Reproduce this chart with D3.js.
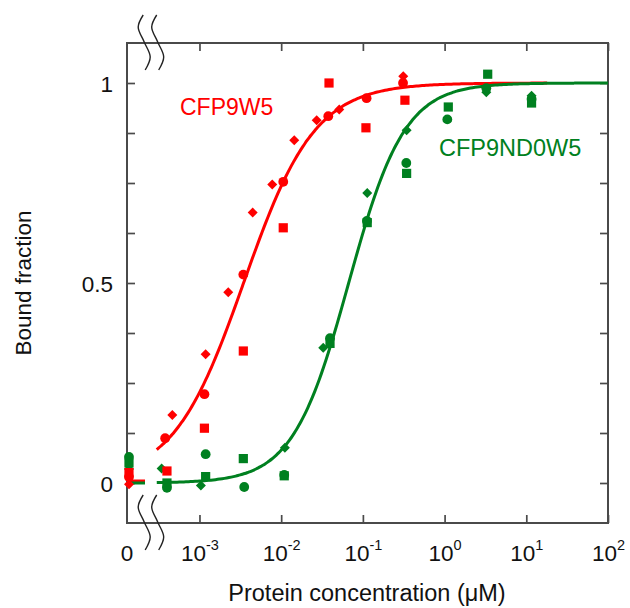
<!DOCTYPE html>
<html>
<head>
<meta charset="utf-8">
<script src="https://cdn.jsdelivr.net/npm/d3@7"></script>
<style>
  html, body { margin: 0; padding: 0; background: #fff; }
  svg { display: block; }
  text { font-family: "Liberation Sans", Arial, sans-serif; }
</style>
</head>
<body>
<svg id="chart" width="630" height="608"></svg>
<script>
// ---- Binding titration data: protein concentration (µM) vs bound fraction ----
// CFP9W5, three replicates (square / circle / diamond markers)
const redSquareConc   = [0, 0.0004, 0.00115, 0.00344, 0.0106, 0.0385, 0.109, 0.327];
const redSquareBound  = [0.026, 0.03, 0.137, 0.33, 0.638, 1.0, 0.888, 0.957];
const redCircleConc   = [0, 0.00038, 0.00115, 0.00344, 0.0106, 0.0377, 0.111, 0.31];
const redCircleBound  = [0.015, 0.112, 0.222, 0.521, 0.753, 0.917, 0.962, 1.0];
const redDiamondConc  = [0, 0.000465, 0.00119, 0.00225, 0.00448, 0.00778, 0.01445, 0.0272, 0.0514, 0.312];
const redDiamondBound = [-0.003, 0.17, 0.322, 0.477, 0.676, 0.746, 0.857, 0.907, 0.934, 1.017];

// CFP9ND0W5, three replicates
const greenSquareConc   = [0, 0.0004, 0.00119, 0.00344, 0.0109, 0.0396, 0.113, 0.343, 1.11, 3.37, 11.6];
const greenSquareBound  = [0.05, 0.0, 0.016, 0.061, 0.018, 0.349, 0.651, 0.774, 0.94, 1.022, 0.95];
const greenCircleConc   = [0, 0.0004, 0.00119, 0.00353, 0.0109, 0.0396, 0.112, 0.34, 1.08, 3.24, 11.6];
const greenCircleBound  = [0.065, -0.012, 0.072, -0.01, 0.02, 0.362, 0.655, 0.80, 0.909, 0.987, 0.96];
const greenDiamondConc  = [0, 0.000344, 0.00104, 0.0111, 0.0327, 0.113, 0.343, 3.24, 11.6];
const greenDiamondBound = [0.035, 0.036, -0.006, 0.088, 0.338, 0.725, 0.882, 0.977, 0.968];

// Hill-fit parameters (apparent Kd in µM, Hill coefficient, baseline) and fitted range
const redFit   = { kd: 0.0035, n: 1.0,  base: 0.005, from: 0.0003, to: 18 };
const greenFit = { kd: 0.067,  n: 1.27, base: 0.0,   from: 0.0003, to: 100 };

// Axis ticks and labels
const xDecades = [1e-3, 1e-2, 1e-1, 1e0, 1e1, 1e2];
const xExponents = ["-3", "-2", "-1", "0", "1", "2"];
const yTicks = [0, 0.125, 0.25, 0.375, 0.5, 0.625, 0.75, 0.875, 1];
const yLabels = { 0: "0", 0.5: "0.5", 1: "1" };
const seriesNames = ["CFP9W5", "CFP9ND0W5"];

// ---- Layout ----
const RED = "#ff0000", GREEN = "#008020", AXIS = "#4a4a4a";
const L = 127, R = 608, T = 43, B = 523;
const breakEnd = 145;           // end of the "0" segment, left of the axis break

const svg = d3.select("#chart");

const x = d3.scaleLog().domain([Math.pow(10, -3.887), 100]).range([L, R]);
const xZero = d3.scaleLinear().domain([0, 1]).range([L, breakEnd]);   // the "0" region
const y = d3.scaleLinear().domain([-0.1, 1.1]).range([B, T]);
const xPos = c => c === 0 ? xZero(0.11) : x(c);

// ---- Frame with inward ticks ----
svg.append("rect")
  .attr("x", L).attr("y", T).attr("width", R - L).attr("height", B - T)
  .attr("fill", "none").attr("stroke", AXIS).attr("stroke-width", 2);

function styleAxis(g) {
  g.select(".domain").remove();
  g.selectAll(".tick line").attr("stroke", AXIS).attr("stroke-width", 1.7);
  g.attr("font-family", null).attr("font-size", null);
}

const gBottom = svg.append("g").attr("transform", `translate(0,${B})`)
  .call(d3.axisBottom(x).tickValues(xDecades).tickSizeInner(-8).tickSizeOuter(0).tickFormat(""))
  .call(styleAxis);
svg.append("g").attr("transform", `translate(0,${T})`)
  .call(d3.axisTop(x).tickValues(xDecades).tickSizeInner(-8).tickSizeOuter(0).tickFormat(""))
  .call(styleAxis);
const gLeft = svg.append("g").attr("transform", `translate(${L},0)`)
  .call(d3.axisLeft(y).tickValues(yTicks).tickSizeInner(-8).tickSizeOuter(0).tickPadding(14)
    .tickFormat(d => yLabels[d] || ""))
  .call(styleAxis);
svg.append("g").attr("transform", `translate(${R},0)`)
  .call(d3.axisRight(y).tickValues(yTicks).tickSizeInner(-8).tickSizeOuter(0).tickFormat(""))
  .call(styleAxis);

gLeft.selectAll(".tick text")
  .attr("fill", "#111").attr("font-size", 22.5).attr("dy", "0.36em");

// bottom decade labels with superscript exponents
gBottom.selectAll(".tick text").each(function(d, i) {
  const t = d3.select(this).text(null)
    .attr("y", 38).attr("dy", null).attr("fill", "#111").attr("font-size", 22.5)
    .attr("text-anchor", "middle");
  t.append("tspan").text("10");
  t.append("tspan").attr("dy", -11).attr("font-size", 14.5).text(xExponents[i]);
});

// "0" label of the zero region
svg.append("text")
  .attr("x", xZero(0)).attr("y", B + 38).attr("text-anchor", "middle")
  .attr("font-size", 22.5).attr("fill", "#111").text("0");

// ---- Axis-break marks (top and bottom) ----
const wave = d3.line().curve(d3.curveCatmullRom.alpha(0.5));
function breakMark(cx, y0) {
  return wave([[cx, y0], [cx - 5, y0 + 12], [cx + 1, y0 + 27], [cx + 7, y0 + 42], [cx + 2, y0 + 55]]);
}
const breakX = [xZero(0.9), xZero(0.9) + 13.5];
[T - 28, B - 28].forEach(y0 => {
  breakX.forEach(cx => {
    svg.append("path").attr("d", breakMark(cx, y0))
      .attr("fill", "none").attr("stroke", "#222").attr("stroke-width", 1.4);
  });
});

// ---- Fitted binding curves ----
function hill(fit, c) {
  const p = Math.pow(c, fit.n);
  return fit.base + (1 - fit.base) * p / (p + Math.pow(fit.kd, fit.n));
}
const curveLine = d3.line().x(d => x(d[0])).y(d => y(d[1])).curve(d3.curveMonotoneX);
function drawFit(fit, color) {
  const lo = Math.log10(fit.from), hi = Math.log10(fit.to);
  const pts = d3.range(0, 201).map(i => {
    const c = Math.pow(10, lo + (hi - lo) * i / 200);
    return [c, hill(fit, c)];
  });
  svg.append("path").attr("d", curveLine(pts))
    .attr("fill", "none").attr("stroke", color).attr("stroke-width", 3);
  // baseline of the fit in the zero region
  svg.append("line")
    .attr("x1", xZero(0)).attr("x2", xZero(1))
    .attr("y1", y(fit.base)).attr("y2", y(fit.base))
    .attr("stroke", color).attr("stroke-width", 3);
}
drawFit(redFit, RED);
drawFit(greenFit, GREEN);

// ---- Markers ----
const gMarks = svg.append("g");
function drawMarkers(conc, bound, shape, color) {
  const data = conc.map((c, i) => [c, bound[i]]);
  const sel = gMarks.append("g").attr("fill", color).selectAll("*").data(data);
  if (shape === "square") {
    sel.join("rect")
      .attr("x", d => xPos(d[0]) - 4.6).attr("y", d => y(d[1]) - 4.6)
      .attr("width", 9.2).attr("height", 9.2);
  } else if (shape === "circle") {
    sel.join("circle")
      .attr("cx", d => xPos(d[0])).attr("cy", d => y(d[1])).attr("r", 4.9);
  } else {
    sel.join("path")
      .attr("d", d => {
        const cx = xPos(d[0]), cy = y(d[1]), h = 5;
        return `M${cx},${cy - h}L${cx + h},${cy}L${cx},${cy + h}L${cx - h},${cy}Z`;
      });
  }
}
drawMarkers(redDiamondConc, redDiamondBound, "diamond", RED);
drawMarkers(greenDiamondConc, greenDiamondBound, "diamond", GREEN);
drawMarkers(redSquareConc, redSquareBound, "square", RED);
drawMarkers(greenSquareConc, greenSquareBound, "square", GREEN);
drawMarkers(redCircleConc, redCircleBound, "circle", RED);
drawMarkers(greenCircleConc, greenCircleBound, "circle", GREEN);

// ---- Series labels ----
svg.append("text").attr("x", 180).attr("y", 115)
  .attr("font-size", 23).attr("fill", RED).text(seriesNames[0]);
svg.append("text").attr("x", 439).attr("y", 156)
  .attr("font-size", 23.5).attr("fill", GREEN).text(seriesNames[1]);

// ---- Axis titles ----
svg.append("text")
  .attr("x", (L + R) / 2 - 0.5).attr("y", 601).attr("text-anchor", "middle")
  .attr("font-size", 23.5).attr("fill", "#111").text("Protein concentration (μM)");
svg.append("text")
  .attr("transform", `translate(31,${(y(0) + y(1)) / 2}) rotate(-90)`)
  .attr("text-anchor", "middle").attr("font-size", 22.5).attr("fill", "#111")
  .text("Bound fraction");
</script>
</body>
</html>
